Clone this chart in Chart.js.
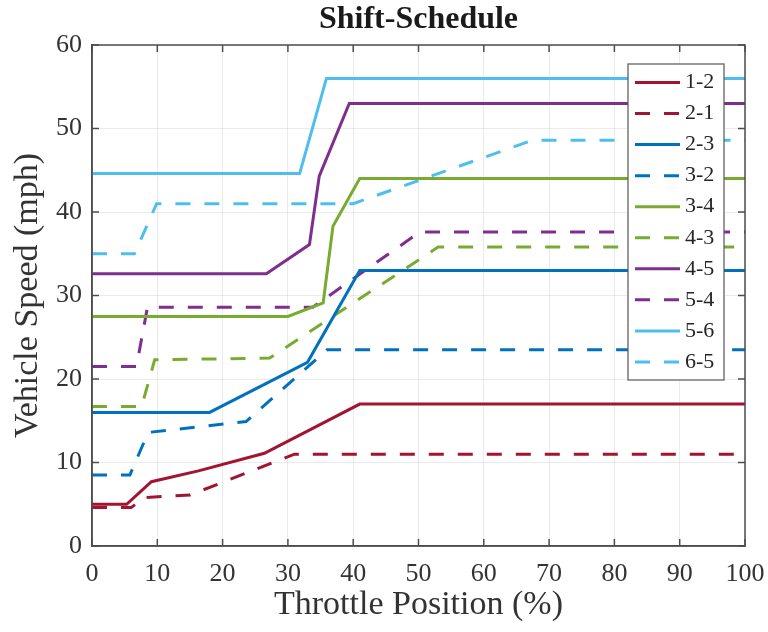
<!DOCTYPE html>
<html>
<head>
<meta charset="utf-8">
<script src="https://cdn.jsdelivr.net/npm/chart.js@4.4.1/dist/chart.umd.min.js"></script>
<style>
  html, body { margin: 0; padding: 0; background: #fff; }
  canvas { display: block; }
</style>
</head>
<body>
<canvas id="shiftChart" width="768" height="632"></canvas>
<script>
// valores: x = posicion del acelerador (%), y = velocidad (mph)
const labels = ["1-2", "2-1", "2-3", "3-2", "3-4", "4-3", "4-5", "5-4", "5-6", "6-5"];

const x12 = [0, 5.3, 9.1, 16.3, 26.4, 41, 100];
const y12 = [5, 5, 7.7, 9, 11.1, 17, 17];
const x21 = [0, 6, 8, 15, 31, 100];
const y21 = [4.6, 4.6, 5.8, 6.1, 11, 11];
const x23 = [0, 18, 33, 41, 100];
const y23 = [16, 16, 22, 33, 33];
const x32 = [0, 5.8, 8.6, 23.6, 36, 100];
const y32 = [8.5, 8.5, 13.6, 14.9, 23.5, 23.5];
const x34 = [0, 30, 35.4, 36.9, 41, 100];
const y34 = [27.5, 27.5, 29.1, 38.3, 44, 44];
const x43 = [0, 7.6, 9.6, 27.2, 53, 100];
const y43 = [16.7, 16.7, 22.3, 22.5, 35.8, 35.8];
const x45 = [0, 26.7, 33.3, 34.8, 39.4, 100];
const y45 = [32.6, 32.6, 36.1, 44.3, 53, 53];
const x54 = [0, 6.8, 8.5, 33.8, 50.2, 100];
const y54 = [21.5, 21.5, 28.6, 28.6, 37.6, 37.6];
const x56 = [0, 31.8, 35.9, 100];
const y56 = [44.6, 44.6, 56, 56];
const x65 = [0, 6.5, 9.9, 40, 67.5, 100];
const y65 = [35, 35, 41, 41, 48.6, 48.6];

const xTicks = [0, 10, 20, 30, 40, 50, 60, 70, 80, 90, 100];
const yTicks = [0, 10, 20, 30, 40, 50, 60];

const seriesX = [x12, x21, x23, x32, x34, x43, x45, x54, x56, x65];
const seriesY = [y12, y21, y23, y32, y34, y43, y45, y54, y56, y65];
const colors = ["#A2142F", "#A2142F", "#0072BD", "#0072BD", "#77AC30", "#77AC30",
                "#7E2F8E", "#7E2F8E", "#4DBEEE", "#4DBEEE"];

const serif = "'Liberation Serif', 'DejaVu Serif', serif";
const dash = [15, 14];

function makePoints(xs, ys) {
    return xs.map((v, i) => ({ x: v, y: ys[i] }));
}

const datasets = labels.map((name, i) => ({
    label: name,
    data: makePoints(seriesX[i], seriesY[i]),
    borderColor: colors[i],
    backgroundColor: colors[i],
    borderWidth: 3,
    borderDash: i % 2 === 1 ? dash : [],
    pointRadius: 0,
    tension: 0,
    fill: false
}));

// marco tipo MATLAB con marcas hacia adentro
const framePlugin = {
    id: "frame",
    afterDatasetsDraw(chart) {
        const { ctx, chartArea: a, scales } = chart;
        ctx.save();
        ctx.strokeStyle = "#4d4d4d";
        ctx.lineWidth = 1.5;
        ctx.strokeRect(a.left, a.top, a.right - a.left, a.bottom - a.top);
        ctx.beginPath();
        xTicks.forEach(v => {
            const px = scales.x.getPixelForValue(v);
            ctx.moveTo(px, a.bottom); ctx.lineTo(px, a.bottom - 7);
            ctx.moveTo(px, a.top); ctx.lineTo(px, a.top + 7);
        });
        yTicks.forEach(v => {
            const py = scales.y.getPixelForValue(v);
            ctx.moveTo(a.left, py); ctx.lineTo(a.left + 7, py);
            ctx.moveTo(a.right, py); ctx.lineTo(a.right - 7, py);
        });
        ctx.stroke();
        ctx.restore();
    },
    afterDraw(chart) {
        // leyenda dentro del area
        const ctx = chart.ctx;
        const box = { left: 628, top: 64, right: 724, bottom: 380 };
        ctx.save();
        ctx.fillStyle = "#fff";
        ctx.fillRect(box.left, box.top, box.right - box.left, box.bottom - box.top);
        ctx.strokeStyle = "#555";
        ctx.lineWidth = 1.2;
        ctx.strokeRect(box.left, box.top, box.right - box.left, box.bottom - box.top);
        ctx.font = "22px " + serif;
        ctx.textBaseline = "middle";
        ctx.fillStyle = "#262626";
        chart.data.datasets.forEach((ds, i) => {
            const y = 82.5 + i * 31.05;
            ctx.beginPath();
            ctx.strokeStyle = ds.borderColor;
            ctx.lineWidth = 3;
            ctx.setLineDash(ds.borderDash);
            ctx.moveTo(635, y);
            ctx.lineTo(680, y);
            ctx.stroke();
            ctx.setLineDash([]);
            ctx.fillText(ds.label, 685, y);
        });
        ctx.restore();
    }
};

new Chart(document.getElementById("shiftChart"), {
    type: "line",
    data: { datasets },
    plugins: [framePlugin],
    options: {
        responsive: false,
        animation: false,
        layout: { padding: { left: 0, right: 23, top: 0, bottom: 0 } },
        plugins: {
            legend: { display: false },
            tooltip: { enabled: false },
            title: {
                display: true,
                text: "Shift-Schedule",
                fullSize: false,
                color: "#1a1a1a",
                font: { family: serif, size: 32, weight: "bold" },
                padding: { top: 1, bottom: 5.6 }
            }
        },
        scales: {
            x: {
                type: "linear",
                min: 0,
                max: 100,
                afterBuildTicks(scale) { scale.ticks = xTicks.map(v => ({ value: v })); },
                afterFit(scale) {
                    scale.height = 86;
                    scale.paddingLeft = 0;
                    scale.paddingRight = 0;
                },
                ticks: { color: "#333", font: { family: serif, size: 26 }, padding: 13, maxRotation: 0 },
                grid: { color: "rgba(0,0,0,0.08)", drawTicks: false },
                border: { color: "#4d4d4d", width: 1.5 },
                title: {
                    display: true,
                    text: "Throttle Position (%)",
                    color: "#333",
                    font: { family: serif, size: 34 },
                    padding: { top: 0, bottom: 7 }
                }
            },
            y: {
                min: 0,
                max: 60,
                afterBuildTicks(scale) { scale.ticks = yTicks.map(v => ({ value: v })); },
                afterFit(scale) { scale.width = 92; },
                ticks: { color: "#333", font: { family: serif, size: 26 }, padding: 10 },
                grid: { color: "rgba(0,0,0,0.08)", drawTicks: false },
                border: { color: "#4d4d4d", width: 1.5 },
                title: {
                    display: true,
                    text: "Vehicle Speed (mph)",
                    color: "#333",
                    font: { family: serif, size: 34 },
                    padding: { top: 8, bottom: 0 }
                }
            }
        }
    }
});
</script>
</body>
</html>
